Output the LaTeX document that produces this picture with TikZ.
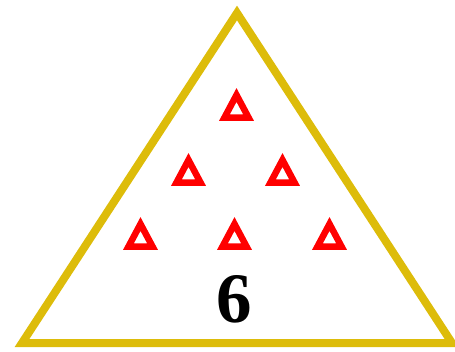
\documentclass[tikz,border=0pt]{standalone}
\usepackage{fontspec}
\setmainfont{Liberation Serif}
\definecolor{trigold}{RGB}{221,188,10}
\tikzset{delta/.style={draw=red,line width=6.5pt,line join=miter}}
\begin{document}
\begin{tikzpicture}[x=1pt,y=-1pt]
  \useasboundingbox (0,0) rectangle (455,351);
  % triangulo grande
  \coordinate (L) at (22,343);
  \coordinate (R) at (452,343);
  \coordinate (T) at (237,13);
  \draw[trigold,line width=8pt,line join=miter] (L)--(T)--(R)--cycle;
  % deltas (filas 1, 2, 3): centro de la base
  \foreach \cx/\cy in {236.5/117.5, 188.5/182.5, 282.5/182.5, 140.5/246.5, 234.5/246.5, 329.5/246.5}
    \draw[delta] (\cx-12,\cy)--(\cx+12,\cy)--(\cx,\cy-22.5)--cycle;
  % numero
  \node[font=\bfseries\fontsize{71}{71}\selectfont] (num) at (234,299) {6};
\end{tikzpicture}
\end{document}
